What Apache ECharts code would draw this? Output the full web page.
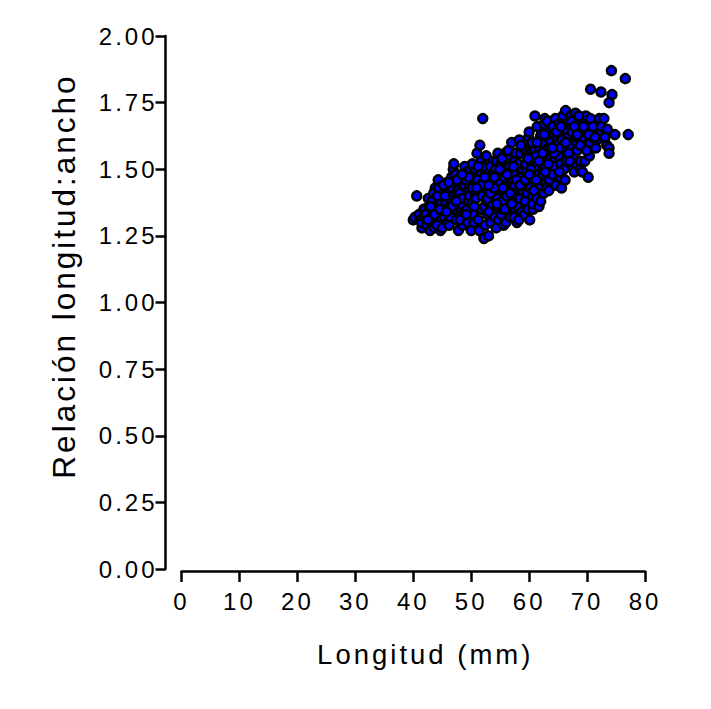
<!DOCTYPE html>
<html>
<head>
<meta charset="utf-8">
<script src="https://cdn.jsdelivr.net/npm/echarts@6/dist/echarts.min.js"></script>
<style>
html,body{margin:0;padding:0;background:#fff;}
#chart{width:711px;height:709px;}
#chart svg text{letter-spacing:3px;}
</style>
</head>
<body>
<div id="chart"></div>
<script>
// Longitud (mm) of each shell
const longitudMm = [
  40.0, 40.3, 40.6, 41.0,
  41.2, 41.5, 41.8, 41.4, 41.9,
  42.0, 42.3, 42.6, 42.9, 42.2, 42.7,
  43.1, 43.4, 43.8, 43.2, 43.6, 43.9, 43.5,
  44.0, 44.3, 44.7, 44.2, 44.5, 44.8, 44.4, 44.1,
  45.0, 45.1, 45.4, 45.8, 45.3, 45.6, 45.9, 45.2,
  46.0, 46.3, 46.6, 46.9, 46.2, 46.5, 46.8, 46.4,
  47.0, 47.2, 47.5, 47.8, 47.1, 47.4, 47.7, 47.3, 47.9,
  48.0, 48.3, 48.6, 48.9, 48.2, 48.5, 48.8, 48.4, 48.1,
  49.0, 49.3, 49.6, 49.9, 49.2, 49.5, 49.8, 49.4, 49.7,
  50.0, 50.1, 50.4, 50.7, 50.3, 50.6, 50.9, 50.2, 50.5, 50.8,
  51.0, 51.3, 51.5, 51.8, 51.2, 51.6, 51.9, 51.4, 51.1, 51.7,
  52.0, 52.2, 52.6, 52.9, 52.3, 52.5, 52.8, 52.1, 52.4, 52.7, 52.0,
  53.0, 53.2, 53.5, 53.8, 53.1, 53.4, 53.7, 53.3, 53.6, 53.9,
  54.0, 54.3, 54.6, 54.9, 54.2, 54.5, 54.8, 54.1, 54.4, 54.7,
  55.0, 55.3, 55.6, 55.9, 55.2, 55.5, 55.8, 55.1, 55.4, 55.7,
  56.0, 56.3, 56.6, 56.9, 56.2, 56.5, 56.8, 56.1, 56.4, 56.7,
  57.0, 57.3, 57.6, 57.9, 57.2, 57.5, 57.8, 57.1, 57.4, 57.7, 57.5,
  58.0, 58.3, 58.6, 58.9, 58.2, 58.5, 58.8, 58.1, 58.4, 58.7,
  59.0, 59.3, 59.6, 59.9, 59.2, 59.5, 59.8, 59.1, 59.4, 59.7, 59.9,
  60.0, 60.1, 60.4, 60.7, 60.3, 60.6, 60.9, 60.2, 60.5, 60.8, 60.6,
  61.0, 61.3, 61.6, 61.9, 61.2, 61.5, 61.8, 61.1, 61.4, 61.7,
  62.0, 62.3, 62.6, 62.9, 62.2, 62.5, 62.8, 62.1, 62.4, 62.7,
  63.0, 63.3, 63.6, 63.9, 63.2, 63.5, 63.8, 63.1, 63.4, 63.7,
  64.0, 64.3, 64.6, 64.9, 64.2, 64.5, 64.8, 64.1, 64.4,
  65.0, 65.3, 65.6, 65.9, 65.2, 65.5, 65.8, 65.1, 65.4,
  66.0, 66.3, 66.6, 66.9, 66.2, 66.5, 66.8, 66.1, 66.4,
  67.0, 67.3, 67.6, 67.9, 67.2, 67.5, 67.8, 67.4,
  68.0, 68.3, 68.6, 68.9, 68.2, 68.5, 68.8, 68.4,
  69.0, 69.3, 69.6, 69.9, 69.2, 69.5, 69.8,
  70.0, 70.2, 70.5, 70.8, 70.4, 70.6, 70.9,
  71.2, 71.5, 71.7, 72.1, 72.4, 71.9,
  72.9, 73.4, 73.8, 73.8, 73.5, 74.8, 73.1,
  74.2, 76.6, 70.6, 72.4, 74.3, 73.8, 77.1,
  42.5, 43.0, 43.7, 44.6, 45.5, 46.1, 46.7, 47.6, 48.7, 49.1,
  49.6, 50.2, 50.5, 51.2, 51.7, 52.3, 52.8, 53.3, 53.9, 54.4,
  54.9, 55.3, 55.8, 56.2, 56.7, 57.3, 57.8, 58.4, 58.9, 59.3,
  59.8, 60.3, 60.8, 61.2, 61.7, 62.3, 62.8, 63.3, 63.8, 64.3,
  64.7, 65.2, 65.7, 66.3, 66.8, 67.3, 67.8, 68.3, 68.8, 69.4,
  69.9, 70.3, 71.0, 71.4, 45.7, 47.4, 48.4, 50.9, 53.0, 54.0,
  55.5, 57.0, 58.6, 60.0, 61.4, 62.6, 64.0, 65.5, 67.0, 68.6
];
// Relación longitud:ancho of each shell (same order)
const relacionLA = [
  1.31, 1.32, 1.40, 1.33,
  1.31, 1.28, 1.35, 1.30, 1.32,
  1.35, 1.29, 1.39, 1.27, 1.33, 1.36,
  1.30, 1.34, 1.43, 1.38, 1.28, 1.36, 1.41,
  1.33, 1.46, 1.27, 1.40, 1.31, 1.37, 1.43, 1.29,
  1.28, 1.35, 1.42, 1.45, 1.32, 1.38, 1.30, 1.44,
  1.40, 1.34, 1.47, 1.50, 1.29, 1.37, 1.43, 1.32,
  1.52, 1.45, 1.39, 1.27, 1.35, 1.31, 1.42, 1.48, 1.36,
  1.41, 1.47, 1.33, 1.51, 1.37, 1.29, 1.44, 1.39, 1.31,
  1.46, 1.35, 1.42, 1.32, 1.49, 1.38, 1.44, 1.30, 1.40,
  1.27, 1.37, 1.45, 1.50, 1.33, 1.41, 1.47, 1.52, 1.30, 1.39,
  1.56, 1.43, 1.59, 1.35, 1.31, 1.48, 1.40, 1.27, 1.46, 1.53,
  1.69, 1.24, 1.55, 1.42, 1.36, 1.49, 1.33, 1.45, 1.29, 1.38, 1.51,
  1.25, 1.47, 1.40, 1.53, 1.34, 1.30, 1.44, 1.51, 1.37, 1.48,
  1.42, 1.28, 1.56, 1.35, 1.50, 1.39, 1.46, 1.32, 1.53, 1.31,
  1.45, 1.38, 1.29, 1.56, 1.33, 1.49, 1.41, 1.52, 1.35, 1.47,
  1.30, 1.43, 1.51, 1.37, 1.55, 1.34, 1.46, 1.40, 1.57, 1.32,
  1.60, 1.48, 1.35, 1.30, 1.42, 1.53, 1.39, 1.45, 1.32, 1.56, 1.44,
  1.36, 1.61, 1.47, 1.42, 1.31, 1.56, 1.50, 1.52, 1.39, 1.34,
  1.44, 1.38, 1.55, 1.62, 1.33, 1.49, 1.35, 1.58, 1.52, 1.41, 1.47,
  1.64, 1.31, 1.46, 1.35, 1.53, 1.40, 1.57, 1.43, 1.60, 1.50, 1.37,
  1.70, 1.39, 1.48, 1.62, 1.55, 1.43, 1.58, 1.51, 1.66, 1.36,
  1.38, 1.52, 1.67, 1.45, 1.60, 1.41, 1.56, 1.63, 1.48, 1.69,
  1.43, 1.58, 1.50, 1.65, 1.62, 1.46, 1.54, 1.68, 1.42, 1.60,
  1.48, 1.63, 1.44, 1.57, 1.53, 1.69, 1.61, 1.66, 1.51,
  1.55, 1.47, 1.43, 1.64, 1.60, 1.52, 1.70, 1.67, 1.58,
  1.50, 1.72, 1.62, 1.55, 1.46, 1.58, 1.68, 1.65, 1.53,
  1.59, 1.66, 1.51, 1.62, 1.70, 1.55, 1.49, 1.64,
  1.71, 1.57, 1.64, 1.53, 1.60, 1.67, 1.50, 1.62,
  1.61, 1.69, 1.53, 1.65, 1.49, 1.58, 1.70,
  1.64, 1.47, 1.60, 1.67, 1.55, 1.69, 1.62,
  1.65, 1.58, 1.61, 1.69, 1.66, 1.63,
  1.69, 1.59, 1.58, 1.56, 1.65, 1.63, 1.62,
  1.87, 1.84, 1.80, 1.79, 1.78, 1.75, 1.63,
  1.31, 1.36, 1.33, 1.35, 1.40, 1.45, 1.36, 1.46, 1.48, 1.33,
  1.47, 1.43, 1.36, 1.51, 1.44, 1.47, 1.39, 1.41, 1.43, 1.37,
  1.50, 1.54, 1.35, 1.48, 1.41, 1.51, 1.46, 1.44, 1.58, 1.46,
  1.54, 1.50, 1.42, 1.46, 1.53, 1.56, 1.49, 1.52, 1.58, 1.56,
  1.64, 1.49, 1.61, 1.60, 1.56, 1.68, 1.66, 1.63, 1.59, 1.66,
  1.57, 1.63, 1.66, 1.62, 1.34, 1.38, 1.48, 1.43, 1.44, 1.47,
  1.43, 1.37, 1.59, 1.48, 1.60, 1.63, 1.58, 1.66, 1.53, 1.70
];
const xTicks = { min: 0, max: 80, interval: 10 };
const yTicks = { min: 0, max: 2, interval: 0.25 };
const xTitle = 'Longitud (mm)';
const yTitle = 'Relación longitud:ancho';

const puntos = longitudMm.map((x, i) => [x, relacionLA[i]]);
const FONT = 'Liberation Sans, Arial, sans-serif';

const chart = echarts.init(document.getElementById('chart'), null, { renderer: 'svg' });
chart.setOption({
  animation: false,
  backgroundColor: '#ffffff',
  grid: { left: 181.5, right: 66, top: 36, bottom: 140 },
  xAxis: {
    type: 'value',
    min: xTicks.min, max: xTicks.max, interval: xTicks.interval,
    offset: 2,
    splitLine: { show: false },
    axisLine: { show: true, onZero: false, lineStyle: { color: '#000', width: 2.5 } },
    axisTick: { show: true, length: 11, lineStyle: { color: '#000', width: 2.5 } },
    axisLabel: { color: '#000', fontSize: 24, fontFamily: FONT, margin: 18 },
    name: xTitle,
    nameLocation: 'middle',
    nameGap: 69,
    nameTextStyle: { color: '#000', fontSize: 27.5, fontFamily: FONT, padding: [0, 0, 0, 24] }
  },
  yAxis: {
    type: 'value',
    min: yTicks.min, max: yTicks.max, interval: yTicks.interval,
    offset: 16,
    splitLine: { show: false },
    axisLine: { show: true, onZero: false, lineStyle: { color: '#000', width: 2.5 } },
    axisTick: { show: true, length: 10, lineStyle: { color: '#000', width: 2.5 } },
    axisLabel: { color: '#000', fontSize: 24, fontFamily: FONT, margin: 8,
      formatter: v => v.toFixed(2) },
    name: yTitle,
    nameLocation: 'middle',
    nameGap: 86,
    nameTextStyle: { color: '#000', fontSize: 31.5, fontFamily: FONT, padding: [0, 0, 0, 53] }
  },
  series: [{
    type: 'scatter',
    data: puntos,
    symbol: 'circle',
    symbolSize: 9,
    itemStyle: { color: '#0000ff', borderColor: '#000', borderWidth: 2.5, opacity: 1 }
  }]
});
</script>
</body>
</html>
